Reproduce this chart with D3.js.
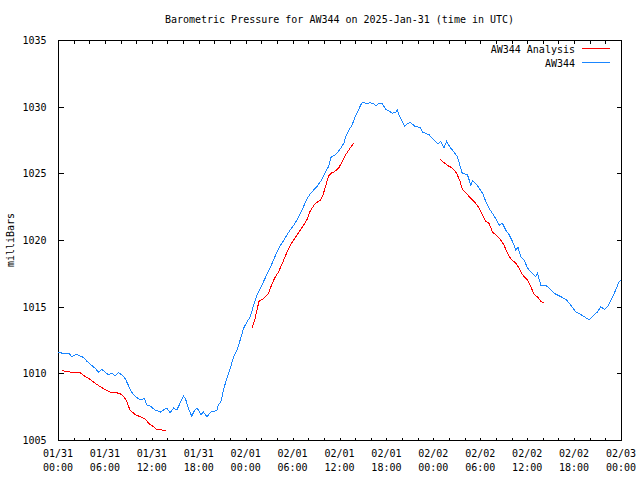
<!DOCTYPE html>
<html><head><meta charset="utf-8">
<script src="https://cdn.jsdelivr.net/npm/d3@7"></script>
<style>
body{margin:0;background:#fff}
svg{display:block}
text{font-family:"DejaVu Sans Mono","Liberation Mono",monospace;font-size:10px;fill:#000}
</style>
</head><body>
<svg id="chart" width="640" height="480"></svg>
<script>
const chartTitle = "Barometric Pressure for AW344 on 2025-Jan-31 (time in UTC)";
const yAxisLabel = "milliBars";
const seriesNames = ["AW344 Analysis", "AW344"];
const seriesColors = ["#ff0000", "#1a86ff"];
const startTime = "2025-01-31T00:00:00Z";
const endTime = "2025-02-03T00:00:00Z";
const yTickValues = [1005, 1010, 1015, 1020, 1025, 1030, 1035];
const xLabelDates = ["01/31","01/31","01/31","01/31","02/01","02/01","02/01","02/01","02/02","02/02","02/02","02/02","02/03"];
const xLabelTimes = ["00:00","06:00","12:00","18:00","00:00","06:00","12:00","18:00","00:00","06:00","12:00","18:00","00:00"];

// AW344 station (hours since start, millibars)
const stationHours = [0,0.9,1.4,1.75,2.4,2.8,3.25,3.7,4.3,4.7,
5.2,5.6,6.0,6.45,6.9,7.3,7.7,8.15,8.6,9.0,
9.4,9.9,10.3,10.7,11.0,11.4,11.8,12.4,13.1,13.5,
13.9,14.35,14.8,15.2,15.6,16.05,16.3,16.7,17.1,17.5,
17.8,18.3,18.6,19.05,19.55,20.3,20.5,20.85,21.1,21.4,
21.8,22.1,22.45,22.9,23.3,23.75,24.2,24.6,25.0,25.45,
25.9,26.3,26.7,27.2,27.6,28.0,28.4,28.9,29.3,29.7,
30.15,30.6,31.0,31.4,31.86,32.3,32.7,33.1,33.6,33.9,
34.2,34.6,34.9,35.5,36.0,36.55,36.8,37.2,37.6,37.9,
38.3,38.7,38.9,39.5,39.95,40.4,40.7,41.0,41.5,41.9,
42.3,42.75,43.2,43.4,43.7,44.0,44.3,44.75,45.1,45.7,
46.3,46.6,47.0,47.45,47.9,48.3,48.6,48.94,49.36,49.7,
50.2,50.65,51.07,51.4,51.7,52.36,52.8,53.0,53.4,53.85,
54.3,54.7,55.1,55.56,55.98,56.4,56.84,57.26,57.69,58.12,
58.55,58.84,59.18,59.61,60.04,60.47,61.1,61.32,61.75,62.39,
62.81,63.45,64.3,64.95,65.6,66.23,66.87,67.3,67.93,68.58,
69.0,69.43,69.86,70.29,70.7,71.14,71.78,72.0];
const stationValues = [1011.6,1011.45,1011.5,1011.25,1011.45,1011.3,1011.2,1010.9,1010.6,1010.4,
1010.1,1010.3,1010.1,1009.9,1010.0,1009.8,1010.05,1009.9,1009.6,1009.1,
1008.6,1008.25,1008.1,1008.0,1008.15,1007.6,1007.55,1007.25,1007.1,1007.25,
1007.4,1007.05,1007.4,1007.25,1007.75,1008.3,1008.1,1007.3,1006.8,1007.25,
1007.4,1006.9,1007.1,1006.75,1007.1,1007.2,1007.6,1007.9,1008.6,1009.25,
1010.0,1010.5,1011.25,1011.75,1012.5,1013.4,1013.9,1014.25,1015.1,1015.9,
1016.4,1016.9,1017.4,1018.0,1018.55,1019.1,1019.55,1020.0,1020.4,1020.75,
1021.1,1021.55,1022.0,1022.5,1023.1,1023.5,1023.75,1024.0,1024.4,1024.75,
1025.1,1025.5,1026.2,1026.4,1026.75,1027.25,1027.75,1028.25,1028.6,1029.1,
1029.6,1030.1,1030.3,1030.25,1030.3,1030.2,1030.05,1030.25,1030.2,1029.8,
1029.7,1029.5,1029.6,1029.75,1029.25,1028.9,1028.55,1028.75,1028.8,1028.5,
1028.45,1028.1,1028.0,1027.9,1027.6,1027.4,1027.2,1027.4,1026.9,1027.4,
1026.9,1026.6,1026.25,1025.6,1025.0,1024.9,1024.1,1024.45,1024.25,1023.9,
1023.5,1022.9,1022.4,1022.0,1021.6,1021.1,1021.25,1020.75,1020.4,1019.9,
1019.25,1019.45,1018.75,1018.5,1017.9,1017.6,1017.25,1017.5,1016.6,1016.6,
1016.4,1016.0,1015.75,1015.55,1015.1,1014.6,1014.4,1014.25,1014.0,1014.4,
1014.6,1015.0,1014.8,1015.0,1015.5,1016.0,1016.9,1017.0];

// AW344 Analysis (null marks a gap between runs)
const analysisHours = [0.5,1.5,2.2,2.8,3.5,4.1,4.75,5.4,6.0,6.65,7.3,7.9,8.4,8.8,9.2,9.9,10.5,11.1,11.6,12.2,12.6,13.3,13.8,
null,
24.8,25.2,25.7,26.3,26.9,27.4,27.8,28.2,28.65,29.0,29.3,29.7,30.15,30.6,31.0,31.4,31.86,32.2,32.5,32.9,33.6,33.9,34.2,34.4,34.6,35.0,35.3,35.9,36.35,36.8,37.2,37.6,37.9,
null,
48.85,49.79,50.43,50.99,51.41,51.72,52.36,53.0,53.42,53.85,54.28,54.7,55.13,55.56,55.98,56.62,57.05,57.48,57.9,58.55,58.97,59.4,60.04,60.47,60.89,61.32,61.75,62.09];
const analysisValues = [1010.2,1010.1,1010.1,1010.05,1009.75,1009.55,1009.25,1009.0,1008.8,1008.6,1008.55,1008.5,1008.25,1007.9,1007.25,1006.9,1006.75,1006.6,1006.25,1006.0,1005.8,1005.75,1005.75,
null,
1013.4,1014.1,1015.4,1015.6,1016.0,1016.75,1017.25,1017.6,1018.2,1018.7,1019.1,1019.6,1020.0,1020.4,1020.75,1021.1,1021.55,1022.1,1022.4,1022.75,1023.0,1023.4,1024.0,1024.4,1024.8,1025.05,1025.1,1025.4,1025.9,1026.4,1026.75,1027.1,1027.3,
null,
1026.05,1025.6,1025.4,1025.0,1024.4,1023.8,1023.4,1023.0,1022.75,1022.4,1021.9,1021.4,1021.25,1020.6,1020.4,1020.0,1019.6,1019.0,1018.6,1018.25,1017.9,1017.4,1017.0,1016.5,1015.9,1015.75,1015.4,1015.3];

const svg = d3.select("#chart");
const L = 58, R = 621, T = 40, B = 440;
const t0 = new Date(startTime), t1 = new Date(endTime);
const toDate = h => h == null ? null : new Date(t0.getTime() + h * 3600e3);

const x = d3.scaleUtc().domain([t0, t1]).range([L, R]);
const y = d3.scaleLinear().domain([1005, 1035]).range([B, T]);

const xTicks = d3.utcHour.every(2).range(t0, new Date(t1.getTime() + 1));
const labelTicks = d3.utcHour.every(6).range(t0, new Date(t1.getTime() + 1));

function styleAxis(g) {
  g.select(".domain").remove();
  g.selectAll(".tick line").attr("stroke", "#000").attr("shape-rendering", "crispEdges");
}

// bottom & top axes (inward ticks)
svg.append("g").attr("transform", `translate(0,${B + 0.5})`)
  .call(d3.axisBottom(x).tickValues(xTicks).tickSizeInner(-3).tickSizeOuter(0).tickFormat(""))
  .call(styleAxis);
svg.append("g").attr("transform", `translate(0,${T + 0.5})`)
  .call(d3.axisTop(x).tickValues(xTicks).tickSizeInner(-3).tickSizeOuter(0).tickFormat(""))
  .call(styleAxis);

// left & right axes
svg.append("g").attr("transform", `translate(${L + 0.5},0)`)
  .call(d3.axisLeft(y).tickValues(yTickValues).tickSizeInner(-5).tickSizeOuter(0).tickPadding(12).tickFormat(d3.format("d")))
  .call(styleAxis)
  .call(g => g.selectAll(".tick text").attr("font-size", null).attr("font-family", null).attr("dy", "0.35em"));
svg.append("g").attr("transform", `translate(${R + 0.5},0)`)
  .call(d3.axisRight(y).tickValues(yTickValues).tickSizeInner(-5).tickSizeOuter(0).tickFormat(""))
  .call(styleAxis);

// x tick labels (two lines)
const xl = svg.append("g");
labelTicks.forEach((d, i) => {
  const tx = xl.append("text").attr("text-anchor", "middle").attr("x", x(d));
  tx.append("tspan").attr("x", x(d)).attr("y", 457).text(xLabelDates[i]);
  tx.append("tspan").attr("x", x(d)).attr("y", 471).text(xLabelTimes[i]);
});

// frame
svg.append("rect").attr("x", L + 0.5).attr("y", T + 0.5).attr("width", R - L).attr("height", B - T)
  .attr("fill", "none").attr("stroke", "#000").attr("shape-rendering", "crispEdges");

// lines
const line = d3.line().defined(d => d[0] != null && d[1] != null).x(d => x(d[0])).y(d => y(d[1]));
const analysisData = analysisHours.map((h, i) => [toDate(h), analysisValues[i]]);
const stationData = stationHours.map((h, i) => [toDate(h), stationValues[i]]);

svg.append("path").datum(analysisData).attr("d", line)
  .attr("fill", "none").attr("stroke", seriesColors[0]).attr("stroke-width", 1)
  .attr("shape-rendering", "crispEdges");
svg.append("path").datum(stationData).attr("d", line)
  .attr("fill", "none").attr("stroke", seriesColors[1]).attr("stroke-width", 1)
  .attr("shape-rendering", "crispEdges");

// title
svg.append("text").attr("x", (L + R) / 2).attr("y", 23).attr("text-anchor", "middle").text(chartTitle);

// y label
svg.append("text").attr("transform", `translate(14,${(T + B) / 2}) rotate(-90)`)
  .attr("text-anchor", "middle").text(yAxisLabel);

// legend
const legendY = [49, 63];
seriesNames.forEach((name, i) => {
  svg.append("text").attr("x", 575).attr("y", legendY[i] + 4).attr("text-anchor", "end").text(name);
  svg.append("line").attr("x1", 582).attr("x2", 610).attr("y1", legendY[i] - 0.5).attr("y2", legendY[i] - 0.5)
    .attr("stroke", seriesColors[i]).attr("shape-rendering", "crispEdges");
});
</script>
</body></html>
